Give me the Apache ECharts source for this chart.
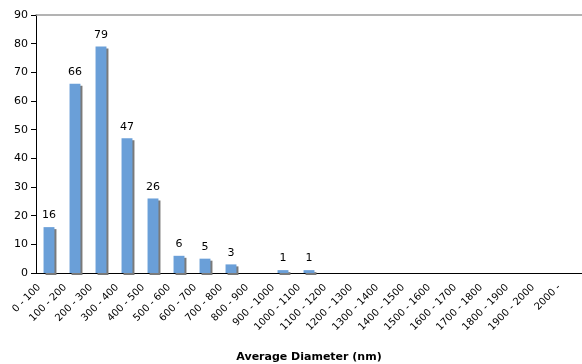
<!DOCTYPE html>
<html><head><meta charset="utf-8">
<script src="https://cdn.jsdelivr.net/npm/echarts@6/dist/echarts.min.js"></script>
<style>html,body{margin:0;padding:0;background:#fff}#c{width:582px;height:364px}</style>
</head><body><div id="c"></div>
<script>
const categories = ["0 - 100","100 - 200","200 - 300","300 - 400","400 - 500","500 - 600","600 - 700","700 - 800","800 - 900","900 - 1000","1000 - 1100","1100 - 1200","1200 - 1300","1300 - 1400","1400 - 1500","1500 - 1600","1600 - 1700","1700 - 1800","1800 - 1900","1900 - 2000","2000 -"];
const counts = [16,66,79,47,26,6,5,3,0,1,1,0,0,0,0,0,0,0,0,0,0];
const yTicks = [0,10,20,30,40,50,60,70,80,90];
const font = "DejaVu Sans, Verdana, sans-serif";
const chart = echarts.init(document.getElementById('c'));
chart.setOption({
  animation:false,
  grid:{left:36,right:0,top:15,bottom:91,containLabel:false,outerBoundsMode:'none'},
  xAxis:[{
    type:'category', data:categories,
    axisLine:{lineStyle:{color:'#000',width:1}},
    axisTick:{alignWithLabel:false,length:4,lineStyle:{color:'#000'}},
    axisLabel:{rotate:45,interval:0,fontFamily:font,fontSize:10,color:'#000',margin:3,padding:[0,14,0,0]},
    name:'Average Diameter (nm)', nameLocation:'middle', nameGap:79,
    nameTextStyle:{fontFamily:font,fontSize:11,fontWeight:'bold',color:'#000'}
  },{
    type:'category', position:'top', data:categories,
    axisLine:{show:true,lineStyle:{color:'#9a9a9a',width:1.5}},
    axisTick:{show:false}, axisLabel:{show:false}
  }],
  yAxis:{
    type:'value', min:0, max:90, interval:10,
    axisLine:{show:true,lineStyle:{color:'#000'}},
    axisTick:{show:true,length:5,lineStyle:{color:'#000'}},
    splitLine:{show:false},
    axisLabel:{fontFamily:font,fontSize:11,color:'#000',margin:8,
      formatter:v=>yTicks.includes(v)?String(v):''}
  },
  series:[{
    type:'bar', data:counts, barWidth:'42%',
    itemStyle:{color:'#6a9fd8',shadowColor:'#7a7a7a',shadowOffsetX:2,shadowOffsetY:2,shadowBlur:0},
    label:{show:true,position:'top',distance:6,fontFamily:font,fontSize:11,color:'#000',
      formatter:p=>p.value>0?String(p.value):''}
  }]
});
</script></body></html>
